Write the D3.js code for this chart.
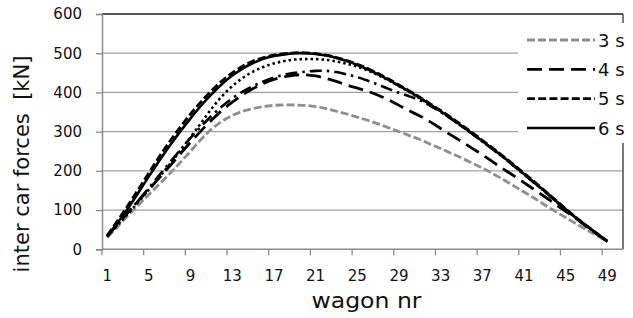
<!DOCTYPE html>
<html>
<head>
<meta charset="utf-8">
<script src="https://cdn.jsdelivr.net/npm/d3@7"></script>
<style>
  html, body { margin: 0; padding: 0; background: #ffffff; }
  svg { display: block; }
  text { font-family: "DejaVu Sans", sans-serif; fill: #111; }
</style>
</head>
<body>
<svg id="chart" width="633" height="318"></svg>
<script>
// ---------- data ----------
const categories = [1,2,3,4,5,6,7,8,9,10,11,12,13,14,15,16,17,18,19,20,21,22,23,24,25,26,27,28,29,30,31,32,33,34,35,36,37,38,39,40,41,42,43,44,45,46,47,48,49,50];
const wagons = [1,2,3,4,5,6,7,8,9,10,11,12,13,14,15,16,17,18,19,20,21,22,23,24,25,26,27,28,29,30,31,32,33,34,35,36,37,38,39,40,41,42,43,44,45,46,47,48,49];
const xTickLabels = [1,5,9,13,17,21,25,29,33,37,41,45,49];
const yTicks = [0,100,200,300,400,500,600];

const s3 = [30,58,86,113,140,166,193,221,250,280,306,326,341,352,359,364,367,368,368,367,364,359,352,345,337,329,320,310,300,290,280,268,257,245,233,220,207,193,178,162,146,130,113,97,81,65,50,35,20];
const s4 = [33,64,95,124,153,182,212,243,273,302,329,354,375,394,410,423,433,440,444,445,442,436,428,419,411,403,393,381,367,353,340,325,308,291,275,258,241,223,205,188,170,152,134,115,97,78,58,39,20];
const sDashDot = [34,64,94,125,157,189,221,253,284,313,340,364,385,402,416,428,438,445,450,453,455,455,452,446,439,430,420,409,399,390,380,366,350,333,314,295,275,255,235,213,191,169,147,124,101,80,60,40,20];
const sDotted = [33,62,91,121,152,184,217,251,286,322,358,390,416,437,453,465,474,480,484,485,485,483,479,473,466,456,444,431,416,401,385,368,351,333,314,295,275,255,235,213,191,169,147,124,101,80,60,40,20];
const s5 = [35,73,112,153,195,236,275,311,345,376,404,429,450,467,480,489,495,499,501,501,499,495,489,481,472,461,448,434,419,404,388,371,354,336,317,298,278,258,237,216,194,172,149,126,103,81,60,40,21];
const s6 = [32,68,105,145,186,226,264,300,334,366,395,421,443,461,475,486,493,497,500,500,498,494,488,480,470,459,446,432,417,402,386,369,352,334,315,296,276,256,236,214,192,170,148,125,102,80,60,40,20];

const seriesNames = ["3 s","4 s","dash-dot","dotted","5 s","6 s"];
const legendNames = ["3 s","4 s","5 s","6 s"];

// ---------- styles ----------
const styles = {
  "3 s":      {color:"#8f8f8f", width:2.8, dash:"8,3"},
  "4 s":      {color:"#000000", width:2.8, dash:"15,7"},
  "dash-dot": {color:"#000000", width:2.6, dash:"12,5,2.5,5"},
  "dotted":   {color:"#000000", width:2.6, dash:"2.5,3"},
  "5 s":      {color:"#000000", width:2.8, dash:"8,3.2"},
  "6 s":      {color:"#000000", width:2.6, dash:null}
};
const seriesValues = {"3 s":s3,"4 s":s4,"dash-dot":sDashDot,"dotted":sDotted,"5 s":s5,"6 s":s6};

// ---------- layout ----------
const svg = d3.select("#chart");
const L = 102, R = 623, T = 14, B = 249.3;

const x = d3.scaleBand().domain(categories).range([L, R]).padding(0);
const y = d3.scaleLinear().domain([0, 600]).range([B, T]);
const bw = x.bandwidth();

// gridlines
svg.append("g").selectAll("line").data(yTicks.filter(d => d > 0)).join("line")
  .attr("x1", L).attr("x2", R)
  .attr("y1", d => y(d)).attr("y2", d => y(d))
  .attr("stroke", "#a0a0a0").attr("stroke-width", 1.3);

// plot border (top & right)
svg.append("line").attr("x1", L).attr("x2", R).attr("y1", y(600)).attr("y2", y(600))
  .attr("stroke", "#333").attr("stroke-width", 1.3);
svg.append("line").attr("x1", R).attr("x2", R).attr("y1", y(600)).attr("y2", y(0))
  .attr("stroke", "#333").attr("stroke-width", 1.3);

// y axis
const yAxis = d3.axisLeft(y).tickValues(yTicks).tickSize(6).tickPadding(8);
const gy = svg.append("g").attr("transform", `translate(${L},0)`).call(yAxis);
gy.select(".domain").attr("stroke", "#8a8a8a").attr("stroke-width", 1.5);
gy.selectAll(".tick line").attr("stroke", "#8a8a8a").attr("stroke-width", 1.3);
gy.selectAll(".tick text").attr("font-size", 15).attr("font-family", "DejaVu Sans").attr("fill", "#111").attr("dx", -6);

// x axis: labels at band centres, ticks at band starts
const xAxis = d3.axisBottom(x).tickValues(xTickLabels).tickSize(0).tickPadding(21.5);
const gx = svg.append("g").attr("transform", `translate(0,${B})`).call(xAxis);
gx.select(".domain").remove();
gx.selectAll(".tick text").attr("font-size", 15).attr("font-family", "DejaVu Sans").attr("fill", "#111");
svg.append("line").attr("x1", L).attr("x2", R).attr("y1", B).attr("y2", B)
  .attr("stroke", "#8a8a8a").attr("stroke-width", 1.5);
svg.append("g").selectAll("line").data(xTickLabels).join("line")
  .attr("x1", d => x(d)).attr("x2", d => x(d))
  .attr("y1", B).attr("y2", B + 6)
  .attr("stroke", "#8a8a8a").attr("stroke-width", 1.3);

// series
const line = d3.line()
  .x((d, i) => x(wagons[i]) + bw / 2)
  .y(d => y(d))
  .curve(d3.curveCatmullRom.alpha(0.5));

seriesNames.forEach(name => {
  const st = styles[name];
  svg.append("path")
    .datum(seriesValues[name])
    .attr("d", line)
    .attr("fill", "none")
    .attr("stroke", st.color)
    .attr("stroke-width", st.width)
    .attr("stroke-dasharray", st.dash)
    .attr("stroke-linejoin", "round");
});

// legend
const lg = svg.append("g");
lg.append("rect").attr("x", 518).attr("y", 23).attr("width", 120).attr("height", 120).attr("fill", "#fff");
const legendY = d3.scalePoint().domain(legendNames).range([40, 128]);
legendNames.forEach(name => {
  const st = styles[name];
  const cy = legendY(name);
  lg.append("line").attr("x1", 527).attr("x2", 595).attr("y1", cy).attr("y2", cy)
    .attr("stroke", st.color).attr("stroke-width", st.width).attr("stroke-dasharray", st.dash);
  lg.append("text").attr("x", 598).attr("y", cy + 6.5).attr("font-size", 18).text(name);
});

// axis titles
svg.append("text")
  .attr("transform", `translate(29,164) rotate(-90)`)
  .attr("text-anchor", "middle").attr("font-size", 21)
  .style("white-space", "pre")
  .text("inter car forces  [kN]");

svg.append("text")
  .attr("x", 366.5).attr("y", 307.5)
  .attr("text-anchor", "middle").attr("font-size", 21)
  .attr("textLength", 110).attr("lengthAdjust", "spacingAndGlyphs")
  .text("wagon nr");
</script>
</body>
</html>
